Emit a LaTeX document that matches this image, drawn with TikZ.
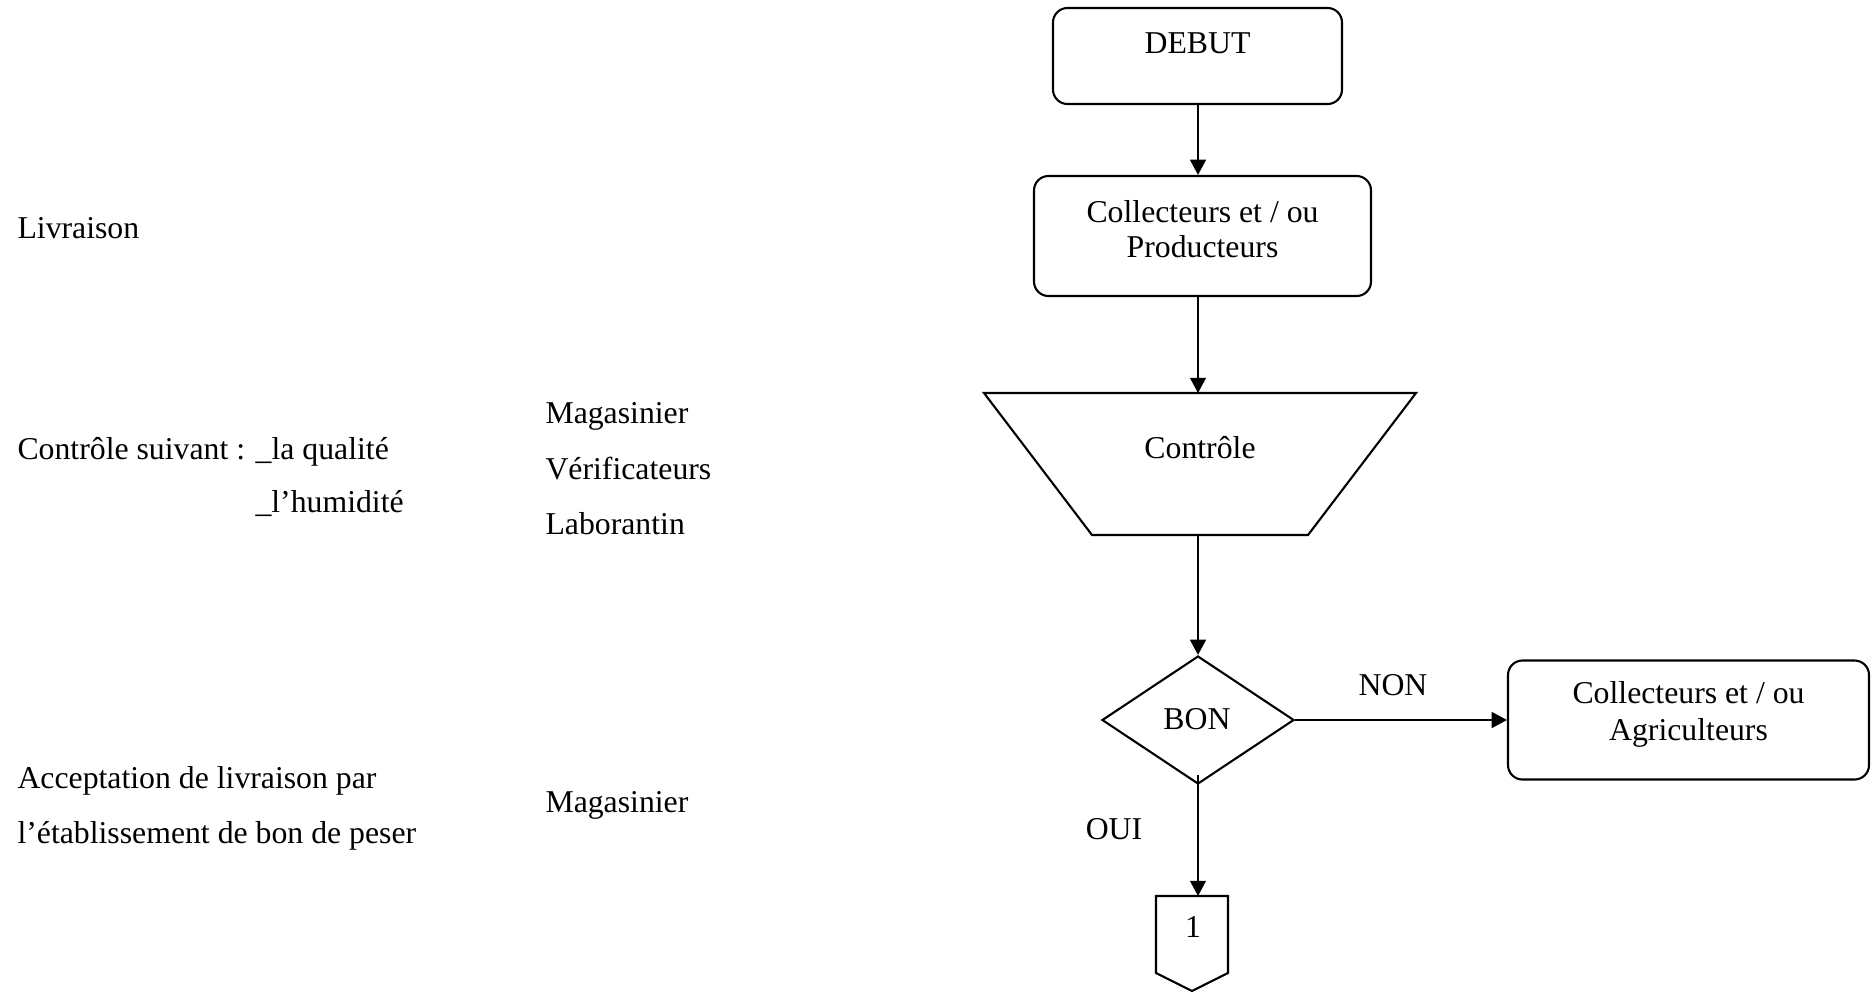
\documentclass[tikz,border=0pt]{standalone}
\usepackage{fontspec}
\setmainfont{Liberation Serif}
\usetikzlibrary{shapes.geometric,arrows.meta}
\def\pxu{0.381pt}
\begin{document}
\begin{tikzpicture}[x=0.381pt,y=-0.381pt,
  every node/.style={font=\fontsize{12.1}{14}\selectfont,inner sep=0pt},
  box/.style={draw,line width=0.8pt,rounded corners=5.5pt},
  txt/.style={anchor=base},
  ltxt/.style={anchor=base west},
  flow/.style={line width=0.8pt,-{Triangle[length=5.8pt,width=6pt]}},
  shapeline/.style={line width=0.8pt,line join=miter}]
\useasboundingbox (0,0) rectangle (1871,992);

% boxes of the main flow
\node[box,minimum width={289*\pxu},minimum height={96*\pxu}] (debut) at (1197.5,56) {};
\node[txt] (tdebut) at (1197.5,53) {DEBUT};

\node[box,minimum width={337*\pxu},minimum height={120*\pxu}] (coll) at (1202.5,236) {};
\node[txt] (tcoll1) at (1202.5,222) {Collecteurs et / ou};
\node[txt] (tcoll2) at (1202.5,257) {Producteurs};

% inverted trapezium of the control step
\coordinate (ctop) at (1198,393);
\coordinate (cbot) at (1198,535);
\draw[shapeline] (984,393) -- (1416,393) -- (1308,535) -- (1092,535) -- cycle;
\node[txt] (tctrl) at (1200,458) {Contrôle};

% decision
\node[draw,diamond,line width=0.8pt,minimum width={192*\pxu},minimum height={128*\pxu}] (bon) at (1198,720) {};
\node[txt] (tbon) at (1197,729) {BON};

\node[box,minimum width={361*\pxu},minimum height={119*\pxu}] (agri) at (1688.5,720) {};
\node[txt] (tagri1) at (1688.5,703) {Collecteurs et / ou};
\node[txt] (tagri2) at (1688.5,740) {Agriculteurs};

% off-page connector
\coordinate (conn) at (1198,896);
\draw[shapeline] (1156,896) -- (1228,896) -- (1228,973) -- (1192,991) -- (1156,973) -- cycle;
\node[txt] (tone) at (1193,937) {1};

% connectors
\draw[flow] (debut.south -| ctop) -- (coll.north -| ctop);
\draw[flow] (coll.south -| ctop) -- (ctop);
\draw[flow] (cbot) -- (bon.north);
\draw[flow] (bon.east) -- (agri.west);
\coordinate (oui0) at (1198,775);
\draw[flow] (oui0) -- (conn);

\node[txt] (tnon) at (1393,695) {NON};
\node[txt] (toui) at (1114,839) {OUI};

% descriptions on the left
\node[ltxt] (d1) at (17,238) {Livraison};
\node[ltxt] (d2) at (17,459) {Contrôle suivant : \_la qualité};
\node[ltxt] (d3) at (255,512) {\_l’humidité};
\node[ltxt] (d4) at (17,788) {Acceptation de livraison par};
\node[ltxt] (d5) at (17,843) {l’établissement de bon de peser};

% actors
\node[ltxt] (a1) at (545,423) {Magasinier};
\node[ltxt] (a2) at (545,479) {Vérificateurs};
\node[ltxt] (a3) at (545,534) {Laborantin};
\node[ltxt] (a4) at (545,812) {Magasinier};
\end{tikzpicture}
\end{document}
